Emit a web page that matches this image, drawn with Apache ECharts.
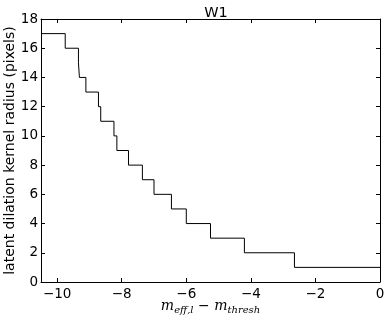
<!DOCTYPE html>
<html>
<head>
    <meta charset="utf-8" />
    <title>W1</title>
    <script src="https://cdnjs.cloudflare.com/ajax/libs/echarts/6.0.0/echarts.min.js"></script>
    <style>
        body, html {
            margin: 0;
            padding: 0;
            background: #fff;
        }
        #chart {
            width: 388px;
            height: 322px;
        }
    </style>
</head>
<body>
<div id="chart"></div>
<script type="text/javascript">
    // step edges (x where each radius starts) and the radius values
    var edges = [-10.5, -9.75, -9.34, -9.31, -9.11, -8.72, -8.65, -8.24, -8.15, -7.79, -7.36, -7.0, -6.46, -6.0, -5.25, -4.2, -2.65, 0];
    var radius = [17, 16, 15, 14, 13, 12, 11, 10, 9, 8, 7, 6, 5, 4, 3, 2, 1, 1];
    var xTicks = [-10, -8, -6, -4, -2, 0];
    var yTicks = [0, 2, 4, 6, 8, 10, 12, 14, 16, 18];

    var chart = echarts.init(document.getElementById('chart'));
    var font = 'DejaVu Sans';
    var minus = function (v) { return String(v).replace('-', '\u2212'); };

    var points = edges.map(function (x, i) { return [x, radius[i]]; });

    var frameLine = { show: true, onZero: false, lineStyle: { color: '#000', width: 1 } };
    var innerTick = { show: true, inside: true, length: 4, lineStyle: { color: '#000' } };

    var option = {
        animation: false,
        title: {
            text: 'W1',
            left: 211,
            textAlign: 'center',
            top: 1,
            textStyle: { fontFamily: font, fontSize: 14.5, fontWeight: 'normal', color: '#000' }
        },
        grid: { left: 41, right: 8, top: 19, bottom: 40, outerBoundsMode: 'none' },
        xAxis: [
            {
                type: 'value', min: -10.5, max: 0, position: 'bottom',
                axisLine: frameLine,
                axisTick: Object.assign({ customValues: xTicks }, innerTick),
                axisLabel: {
                    customValues: xTicks, formatter: minus, margin: 5,
                    fontFamily: font, fontSize: 13.5, color: '#000'
                },
                splitLine: { show: false },
                name: '{m|m}{s|eff,l}{op| \u2212 }{m|m}{s|thresh}',
                nameLocation: 'middle',
                nameGap: 15,
                nameMoveOverlap: false,
                nameTextStyle: {
                    rich: {
                        m: { fontFamily: 'DejaVu Serif', fontStyle: 'italic', fontSize: 14, color: '#000' },
                        s: { fontFamily: 'DejaVu Serif', fontStyle: 'italic', fontSize: 10, color: '#000', padding: [8, 0, 0, 0] },
                        op: { fontFamily: 'DejaVu Sans', fontSize: 14, color: '#000' }
                    }
                }
            },
            {
                type: 'value', min: -10.5, max: 0, position: 'top',
                axisLine: frameLine,
                axisTick: Object.assign({ customValues: xTicks }, innerTick),
                axisLabel: { show: false },
                splitLine: { show: false }
            }
        ],
        yAxis: [
            {
                type: 'value', min: 0, max: 18, interval: 2, position: 'left',
                axisLine: frameLine,
                axisTick: innerTick,
                axisLabel: { fontFamily: font, fontSize: 13.5, color: '#000', margin: 3 },
                splitLine: { show: false },
                name: 'latent dilation kernel radius (pixels)',
                nameLocation: 'middle',
                nameGap: 24,
                nameMoveOverlap: false,
                nameTextStyle: { fontFamily: font, fontSize: 14, color: '#000' }
            },
            {
                type: 'value', min: 0, max: 18, interval: 2, position: 'right',
                axisLine: frameLine,
                axisTick: innerTick,
                axisLabel: { show: false },
                splitLine: { show: false }
            }
        ],
        series: [
            {
                type: 'line',
                step: 'end',
                data: points,
                showSymbol: false,
                lineStyle: { color: '#000', width: 1 },
                clip: true
            }
        ]
    };
    chart.setOption(option);
</script>
</body>
</html>
